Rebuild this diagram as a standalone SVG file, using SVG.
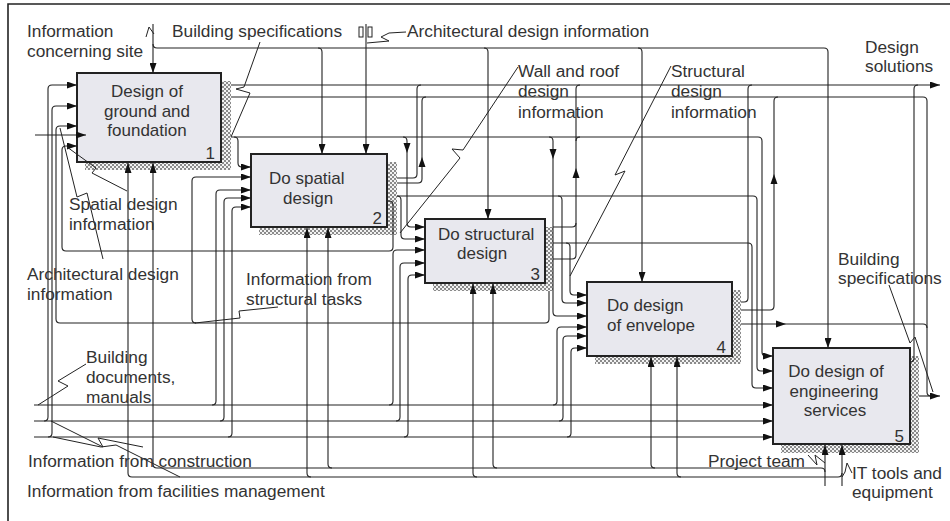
<svg xmlns="http://www.w3.org/2000/svg" xmlns:xlink="http://www.w3.org/1999/xlink" width="950" height="521" viewBox="0 0 950 521">
<style>
text{font-family:"Liberation Sans",Arial,sans-serif;font-size:17.3px;fill:#333}
.bt{font-size:17px}
.box{fill:#e8e8ee;stroke:#222;stroke-width:2}
.sh{fill:url(#hatch)}
.c{fill:none;stroke:#222;stroke-width:1.1}
.ca{fill:none;stroke:#222;stroke-width:1.1;marker-end:url(#ah)}
.s{fill:none;stroke:#222;stroke-width:1}
.frame{fill:none;stroke:#222;stroke-width:1.6}
</style>
<defs>
<pattern id="hatch" width="4" height="4" patternUnits="userSpaceOnUse">
<rect width="4" height="4" fill="#f2f2f2"/>
<rect width="2" height="2" fill="#8a8a8a"/>
<rect x="2" y="2" width="2" height="2" fill="#8a8a8a"/>
</pattern>
<marker id="ah" viewBox="0 0 10 7" refX="10" refY="3.5" markerWidth="10" markerHeight="7" orient="auto" markerUnits="userSpaceOnUse">
<path d="M0,0 L10,3.5 L0,7 Z" fill="#111"/>
</marker>
<path id="arr" d="M0,0 L-10,-3.5 L-10,3.5 Z" fill="#111"/>
</defs>
<rect width="950" height="521" fill="#fff"/>
<path class="frame" d="M8,521 V4 H950"/>

<g id="node1">
<path class="sh" d="M221,81 H231 V170 H85 V162 H221 Z"/>
<rect class="box" x="77" y="73" width="144" height="89"/>
<text class="bt" x="147" y="97" text-anchor="middle">Design of</text>
<text class="bt" x="147" y="116.5" text-anchor="middle">ground and</text>
<text class="bt" x="147" y="136" text-anchor="middle">foundation</text>
<text class="bt" x="215" y="159" text-anchor="end">1</text>
</g>
<g id="node2">
<path class="sh" d="M387,162 H397 V235 H259 V227 H387 Z"/>
<rect class="box" x="251" y="154" width="136" height="73"/>
<text class="bt" x="269" y="184">Do spatial</text>
<text class="bt" x="283" y="203.5">design</text>
<text class="bt" x="382" y="224" text-anchor="end">2</text>
</g>
<g id="node3">
<path class="sh" d="M545,227 H553 V291 H433 V283 H545 Z"/>
<rect class="box" x="425" y="219" width="120" height="64"/>
<text class="bt" x="438" y="239.5">Do structural</text>
<text class="bt" x="457" y="259">design</text>
<text class="bt" x="540" y="280" text-anchor="end">3</text>
</g>
<g id="node4">
<path class="sh" d="M732,290 H741 V364 H595 V356 H732 Z"/>
<rect class="box" x="587" y="282" width="145" height="74"/>
<text class="bt" x="607" y="311">Do design</text>
<text class="bt" x="607" y="330.5">of envelope</text>
<text class="bt" x="726" y="353" text-anchor="end">4</text>
</g>
<g id="node5">
<path class="sh" d="M910,356 H919 V453 H781 V444 H910 Z"/>
<rect class="box" x="773" y="348" width="137" height="96"/>
<text class="bt" x="836" y="377" text-anchor="middle">Do design of</text>
<text class="bt" x="834" y="396.5" text-anchor="middle">engineering</text>
<text class="bt" x="835" y="416" text-anchor="middle">services</text>
<text class="bt" x="904" y="442" text-anchor="end">5</text>
</g>

<g id="connectors">
<path class="ca" d="M153,24 V73"/>
<path class="ca" d="M153,44 Q153,48 157,48 H824 Q828,48 828,52 V348"/>
<path class="ca" d="M318,48 Q322,48 322,52 V154"/>
<path class="ca" d="M484,48 Q488,48 488,52 V219"/>
<path class="ca" d="M638,48 Q642,48 642,52 V282"/>
<path class="ca" d="M366,24 V154"/>
<rect class="s" x="359" y="27" width="4" height="10"/>
<rect class="s" x="368" y="27" width="4" height="10"/>
<path class="ca" d="M231,85 H940"/>
<path class="c" d="M231,97 H923 Q927,97 927,101 V392 Q927,396 931,396"/>
<path class="ca" d="M231,137 H758 Q762,137 762,141 V352 Q762,356 766,356 H773"/>
<path class="ca" d="M234,137 Q238,137 238,141 V163 Q238,167 242,167 H251"/>
<path class="ca" d="M403,137 Q407,137 407,141 V223 Q407,227 411,227 H425"/>
<path class="ca" d="M549,137 Q553,137 553,141 V312 Q553,316 557,316 H587"/>
<use xlink:href="#arr" href="#arr" transform="translate(407,153) rotate(90)"/>
<use xlink:href="#arr" href="#arr" transform="translate(553,159) rotate(90)"/>
<path class="c" d="M397,178 H413 Q417,178 417,174 V89 Q417,85 421,85"/>
<path class="c" d="M397,183 H418 Q422,183 422,179 V101 Q422,97 426,97"/>
<use xlink:href="#arr" href="#arr" transform="translate(422,157) rotate(-90)"/>
<path class="ca" d="M397,196 H753 Q757,196 757,200 V367 Q757,371 761,371 H773"/>
<path class="ca" d="M397,196 Q401,196 401,200 V235 Q401,239 405,239 H425"/>
<path class="ca" d="M558,196 Q562,196 562,200 V299 Q562,303 566,303 H587"/>
<path class="ca" d="M387,201 H389 Q393,201 393,205 V247 Q393,251 389,251 H66 Q62,251 62,247 V150 Q62,146 66,146 H77"/>
<path class="c" d="M553,259 H572 Q576,259 576,255 V89 Q576,85 580,85"/>
<path class="c" d="M553,227 H572 Q576,227 576,223"/>
<path class="c" d="M576,141 Q576,137 580,137"/>
<use xlink:href="#arr" href="#arr" transform="translate(576,168) rotate(-90)"/>
<path class="ca" d="M553,243 H748 Q752,243 752,247 V384 Q752,388 756,388 H773"/>
<path class="ca" d="M566,243 Q570,243 570,247 V291 Q570,295 574,295 H587"/>
<path class="ca" d="M549,291 V319 Q549,323 545,323 H60 Q56,323 56,319 V130 Q56,126 60,126 H77"/>
<path class="ca" d="M196,323 Q192,323 192,319 V181 Q192,177 196,177 H251"/>
<path class="c" d="M741,302 H744 Q748,302 748,298 V89 Q748,85 752,85"/>
<path class="c" d="M741,310 H770 Q774,310 774,306 V101 Q774,97 778,97"/>
<use xlink:href="#arr" href="#arr" transform="translate(774,174) rotate(-90)"/>
<path class="c" d="M741,324 H923 Q927,324 927,328"/>
<use xlink:href="#arr" href="#arr" transform="translate(786,324)"/>
<path class="c" d="M910,362 Q914,362 914,358 V89 Q914,85 918,85"/>
<path class="ca" d="M919,396 H940"/>
<path class="ca" d="M35,135 H86"/>
<path class="ca" d="M34,405 H773"/>
<path class="ca" d="M212,405 Q216,405 216,401 V194 Q216,190 220,190 H251"/>
<path class="ca" d="M389,405 Q393,405 393,401 V254 Q393,250 397,250 H425"/>
<path class="ca" d="M553,405 Q557,405 557,401 V331 Q557,327 561,327 H587"/>
<path class="ca" d="M34,421 H773"/>
<path class="ca" d="M44,421 Q48,421 48,417 V89 Q48,85 52,85 H77"/>
<path class="ca" d="M220,421 Q224,421 224,417 V202 Q224,198 228,198 H251"/>
<path class="ca" d="M396,421 Q400,421 400,417 V267 Q400,263 404,263 H425"/>
<path class="ca" d="M559,421 Q563,421 563,417 V340 Q563,336 567,336 H587"/>
<path class="ca" d="M34,437 H773"/>
<path class="ca" d="M48,437 Q52,437 52,433 V110 Q52,106 56,106 H77"/>
<path class="ca" d="M228,437 Q232,437 232,433 V211 Q232,207 236,207 H251"/>
<path class="ca" d="M404,437 Q408,437 408,433 V279 Q408,275 412,275 H425"/>
<path class="ca" d="M567,437 Q571,437 571,433 V352 Q571,348 575,348 H587"/>
<path class="ca" d="M825,486 V445"/>
<path class="ca" d="M825,472 Q825,468 821,468 H157 Q153,468 153,464 V163"/>
<path class="ca" d="M332,468 Q328,468 328,464 V228"/>
<path class="ca" d="M497,468 Q493,468 493,464 V284"/>
<path class="ca" d="M655,468 Q651,468 651,464 V357"/>
<path class="ca" d="M842,486 V445"/>
<path class="ca" d="M842,473 Q842,477 838,477 H132 Q128,477 128,473 V163"/>
<path class="ca" d="M311,477 Q307,477 307,473 V228"/>
<path class="ca" d="M477,477 Q473,477 473,473 V284"/>
<path class="ca" d="M681,477 Q677,477 677,473 V357"/>
<path class="s" d="M146,37 L149,27 L154,34"/>
<path class="s" d="M260,42 L244,87 L236,89 L250,93 L231,137"/>
<path class="s" d="M406,32 L389,33 L381,37 L389,41 L367,43"/>
<path class="s" d="M518,67 L463,150 L452,149 L460,158 L400,233"/>
<path class="s" d="M671,66 L615,175 L625,171 L570,276"/>
<path class="s" d="M67,147 L96,168 L92,173 L127,191"/>
<path class="s" d="M60,128 L77,197 L87,193 L103,259"/>
<path class="s" d="M278,307 L239,311 L240,318 L195,323"/>
<path class="s" d="M86,364 L58,381 L68,386 L38,405"/>
<path class="s" d="M51,421 L103,447 L98,438 L143,447"/>
<path class="s" d="M53,437 L101,447 L116,445 L180,477"/>
<path class="s" d="M889,285 L910,343 L915,337 L933,392"/>
<path class="s" d="M808,455 L817,465 L815,455 L825,463"/>
<path class="s" d="M852,473 L847,463 L845,472 L842,477"/>
</g>

<g id="labels">
<text x="27" y="37">Information</text>
<text x="27" y="57">concerning site</text>
<text x="172" y="37">Building specifications</text>
<text x="407" y="37">Architectural design information</text>
<text x="865" y="53">Design</text>
<text x="865" y="72">solutions</text>
<text x="518" y="77">Wall and roof</text>
<text x="518" y="97">design</text>
<text x="518" y="118">information</text>
<text x="671" y="77">Structural</text>
<text x="671" y="97">design</text>
<text x="671" y="118">information</text>
<text x="69" y="210">Spatial design</text>
<text x="69" y="230">information</text>
<text x="27" y="280">Architectural design</text>
<text x="27" y="300">information</text>
<text x="246" y="285">Information from</text>
<text x="246" y="305">structural tasks</text>
<text x="86" y="363">Building</text>
<text x="86" y="383">documents,</text>
<text x="86" y="403">manuals</text>
<text x="28" y="467">Information from construction</text>
<text x="27" y="497">Information from facilities management</text>
<text x="838" y="265">Building</text>
<text x="838" y="284">specifications</text>
<text x="708" y="467">Project team</text>
<text x="852" y="479">IT tools and</text>
<text x="852" y="498">equipment</text>
</g>
</svg>
